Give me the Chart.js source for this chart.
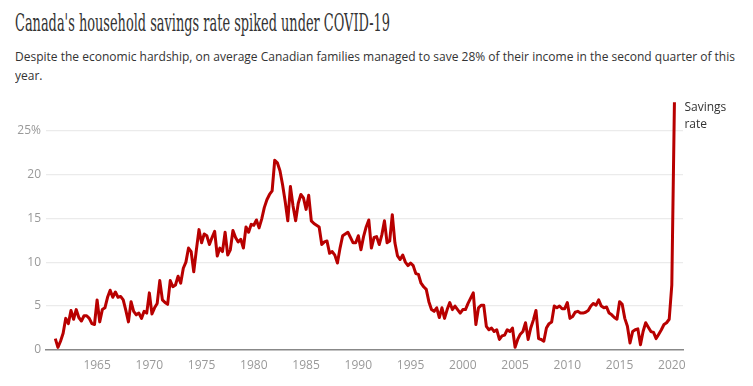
<!DOCTYPE html>
<html>
<head>
<meta charset="utf-8">
<script src="https://cdn.jsdelivr.net/npm/chart.js@4.4.0/dist/chart.umd.min.js"></script>
<style>
  body { margin: 0; background: #fff; width: 753px; height: 386px; overflow: hidden; font-family: 'Open Sans', sans-serif; }
  #title { position: absolute; left: 15px; top: 8px; font-family: 'DejaVu Serif Condensed', 'DejaVu Serif', serif; font-size: 25px; color: #333; white-space: nowrap; transform-origin: 0 0; }
  #sub { position: absolute; left: 15px; top: 47px; font-size: 13px; line-height: 19px; color: #333; white-space: nowrap; transform-origin: 0 0; }
  #wrap { position: absolute; left: 0; top: 90px; width: 753px; height: 296px; }
</style>
</head>
<body>
<div id="title">Canada's household savings rate spiked under COVID-19</div>
<div id="sub"><span id="line1">Despite the economic hardship, on average Canadian families managed to save 28% of their income in the second quarter of this</span><br>year.</div>
<div id="wrap"><canvas id="savingsChart" width="753" height="296"></canvas></div>
<script>
// Quarterly household savings rate (%), starting 1961 Q1
const firstYear = 1961;
const seriesLabel = ["Savings", "rate"];

const rate1960s = [
  1.3, 0.3, 1.0, 1.9,   3.6, 3.0, 4.5, 3.5,   4.6, 3.7, 3.3, 3.9,
  3.9, 3.6, 3.0, 2.9,   5.7, 3.2, 4.6, 4.8,   6.0, 6.8, 6.0, 6.6,
  6.0, 6.1, 5.7, 4.5,   3.2, 5.5, 4.4, 4.0,   4.2, 3.6, 4.4, 4.2
];
const rate1970s = [
  6.5, 4.1, 4.8, 5.3,   7.9, 5.7, 5.4, 5.2,   7.9, 7.2, 7.4, 8.4,
  7.6, 9.3, 10.0, 11.6, 11.2, 8.9, 11.4, 13.7, 12.2, 13.2, 13.0, 12.0,
  12.8, 13.5, 10.7, 11.6, 11.2, 13.4, 10.8, 11.4, 13.6, 12.8, 12.3, 12.6,
  11.6, 14.0, 13.4, 14.3
];
const rate1980s = [
  14.2, 14.8, 13.9, 14.9, 16.2, 17.1, 17.7, 18.1, 21.6, 21.3, 20.4, 18.8,
  16.9, 14.7, 18.6, 16.4, 14.7, 16.7, 17.7, 17.3, 16.0, 17.6, 14.7, 14.4,
  14.2, 14.0, 12.0, 12.3, 12.4, 11.0, 11.2, 10.8, 9.9, 11.6, 13.0, 13.2,
  13.4, 12.8, 12.2, 12.2
];
const rate1990s = [
  13.0, 11.4, 12.9, 14.0, 14.8, 11.6, 12.8, 12.9, 12.0, 13.1, 14.7, 12.2,
  12.4, 15.4, 12.2, 10.7, 10.3, 10.8, 10.0, 9.6,  9.9, 9.6, 8.7, 8.6,
  7.6, 7.2, 6.9, 5.5,   4.6, 4.4, 4.8, 3.7,   4.8, 3.6, 4.6, 5.4,
  4.6, 5.0, 4.6, 4.2
];
const rate2000s = [
  4.6, 4.6, 5.3, 5.9,   6.5, 2.9, 4.8, 5.1,   5.1, 2.7, 2.3, 2.5,
  2.1, 2.3, 1.2, 1.6,   1.7, 2.3, 2.1, 2.5,   0.3, 1.2, 1.8, 2.1,
  3.1, 1.2, 2.5, 3.4,   4.5, 1.3, 1.2, 1.0,   2.5, 3.0, 3.2, 5.0,
  4.8, 5.0, 4.7, 4.7
];
const rate2010s = [
  5.4, 3.6, 3.8, 4.3,   4.4, 4.2, 4.2, 4.3,   4.5, 5.0, 5.3, 5.1,
  5.7, 5.0, 4.8, 4.9,   4.2, 4.0, 3.7, 3.5,   5.5, 5.2, 3.6, 2.7,
  0.8, 2.1, 2.3, 2.4,   0.6, 2.1, 3.1, 2.6,   2.1, 2.0, 1.3, 1.8,
  2.3, 2.9, 3.1, 3.5
];
const rate2020s = [7.4, 28.2];

const yearTicks = [1965, 1970, 1975, 1980, 1985, 1990, 1995, 2000, 2005, 2010, 2015, 2020];
const rateTicks = [0, 5, 10, 15, 20, 25];

const allRates = [].concat(rate1960s, rate1970s, rate1980s, rate1990s, rate2000s, rate2010s, rate2020s);
const points = allRates.map((v, i) => ({ x: firstYear + i / 4, y: v }));

// squeeze the headline fonts to the original widths
function fitWidth(el, measureEl, target) {
  const w = measureEl.getBoundingClientRect().width;
  el.style.transform = 'scaleX(' + (target / w) + ')';
}
fitWidth(document.getElementById('title'), document.getElementById('title'), 375);
fitWidth(document.getElementById('sub'), document.getElementById('line1'), 720);

// "Savings rate" label next to the last point
const endLabel = {
  id: 'endLabel',
  afterDatasetsDraw(chart) {
    const meta = chart.getDatasetMeta(0);
    const pt = meta.data[meta.data.length - 1];
    const c = chart.ctx;
    c.save();
    c.font = '12px "Open Sans"';
    c.fillStyle = '#333';
    c.textBaseline = 'middle';
    c.fillText(seriesLabel[0], pt.x + 10, pt.y + 5);
    c.fillText(seriesLabel[1], pt.x + 10, pt.y + 22);
    c.restore();
  }
};

const ctx = document.getElementById('savingsChart').getContext('2d');
new Chart(ctx, {
  type: 'line',
  data: {
    datasets: [{
      label: 'Savings rate',
      data: points,
      borderColor: '#b80000',
      borderWidth: 3,
      pointRadius: 0,
      tension: 0,
      clip: false,
      borderJoinStyle: 'round'
    }]
  },
  options: {
    responsive: false,
    animation: false,
    layout: { padding: { left: 0, right: 70, top: 12, bottom: 10 } },
    plugins: { legend: { display: false }, tooltip: { enabled: false } },
    scales: {
      x: {
        type: 'linear',
        min: 1960.11,
        max: 2021.07,
        afterFit: s => { s.height = 26; },
        afterBuildTicks: s => { s.ticks = yearTicks.map(v => ({ value: v })); },
        grid: { display: false, drawTicks: false },
        border: { display: true, color: '#888', width: 1.5 },
        ticks: {
          color: '#999',
          font: { family: 'Open Sans', size: 12 },
          padding: 8,
          maxRotation: 0,
          autoSkip: false,
          callback: v => String(v)
        }
      },
      y: {
        min: 0,
        max: 28.2,
        afterFit: s => { s.width = 46; },
        afterBuildTicks: s => { s.ticks = rateTicks.map(v => ({ value: v })); },
        grid: {
          drawTicks: false,
          color: c => c.tick && c.tick.value === 0 ? 'rgba(0,0,0,0)' : '#ebebeb',
          lineWidth: 1.2
        },
        border: { display: false },
        ticks: {
          color: '#999',
          font: { family: 'Open Sans', size: 12 },
          padding: 5,
          callback: v => v === 25 ? '25%' : String(v)
        }
      }
    }
  },
  plugins: [endLabel]
});
</script>
</body>
</html>
